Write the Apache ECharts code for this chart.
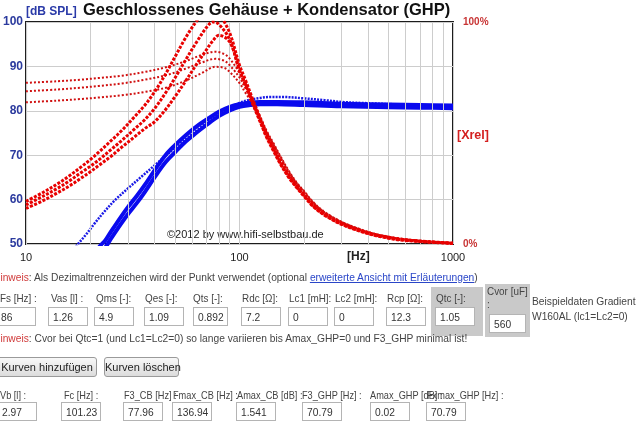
<!DOCTYPE html>
<html><head><meta charset="utf-8">
<script src="https://cdn.jsdelivr.net/npm/echarts@6/dist/echarts.min.js"></script>
<style>
html,body{margin:0;padding:0;background:#fff;width:640px;height:423px;overflow:hidden;font-family:Arial,"Liberation Sans",sans-serif;font-size:11.5px;color:#444}
#chart{position:absolute;left:0;top:0;width:640px;height:423px}
.t{position:absolute;white-space:nowrap;line-height:14px;z-index:2;transform:scaleX(0.89);transform-origin:0 50%}
.t.m{transform:scaleX(0.86)}
.t.n{transform:scaleX(0.80)}
.inp{position:absolute;width:40px;height:19px;box-sizing:border-box;border:1px solid #b4b4b4;background:#fff;padding:2px 0 0 4px;overflow:hidden;white-space:nowrap;color:#333;line-height:14px;z-index:3}
.inp span{display:inline-block;transform:scaleX(0.89);transform-origin:0 50%}
.gray{position:absolute;background:#c9c9c9;z-index:1}
.btn{position:absolute;height:20px;box-sizing:border-box;border:1px solid #9a9a9a;border-radius:3px;background:linear-gradient(#f8f8f8,#dcdcdc);line-height:18px;text-align:center;color:#222;z-index:2;white-space:nowrap;font-size:11px}
.red{color:#d03a3a}
a{color:#2a46c8;text-decoration:underline}
</style></head>
<body>
<div id="chart"></div>

<div class="t" style="left:-7px;top:270px"><span class="red">Hinweis</span>: Als Dezimaltrennzeichen wird der Punkt verwendet (optional <a>erweiterte Ansicht mit Erläuterungen</a>)</div>

<div class="gray" style="left:431px;top:287px;width:52px;height:49px"></div>
<div class="gray" style="left:485px;top:284px;width:45px;height:53px"></div>

<div class="t m" style="left:0px;top:291px">Fs [Hz] :</div>
<div class="t m" style="left:51px;top:291px">Vas [l] :</div>
<div class="t m" style="left:96px;top:291px">Qms [-]:</div>
<div class="t m" style="left:145px;top:291px">Qes [-]:</div>
<div class="t m" style="left:193px;top:291px">Qts [-]:</div>
<div class="t m" style="left:242px;top:291px">Rdc [Ω]:</div>
<div class="t m" style="left:289px;top:291px">Lc1 [mH]:</div>
<div class="t m" style="left:335px;top:291px">Lc2 [mH]:</div>
<div class="t m" style="left:387px;top:291px">Rcp [Ω]:</div>
<div class="t m" style="left:436px;top:291px">Qtc [-]:</div>
<div class="t m" style="left:487px;top:284px">Cvor [uF]</div>
<div class="t" style="left:487px;top:297px">:</div>
<div class="t" style="left:532px;top:294px">Beispieldaten Gradient</div>
<div class="t" style="left:532px;top:309px">W160AL (lc1=Lc2=0)</div>

<div class="inp" style="left:-4px;top:307px"><span>86</span></div>
<div class="inp" style="left:48px;top:307px"><span>1.26</span></div>
<div class="inp" style="left:94px;top:307px"><span>4.9</span></div>
<div class="inp" style="left:144px;top:307px"><span>1.09</span></div>
<div class="inp" style="left:193px;top:307px;width:35px"><span>0.892</span></div>
<div class="inp" style="left:241px;top:307px"><span>7.2</span></div>
<div class="inp" style="left:288px;top:307px"><span>0</span></div>
<div class="inp" style="left:334px;top:307px"><span>0</span></div>
<div class="inp" style="left:386px;top:307px"><span>12.3</span></div>
<div class="inp" style="left:435px;top:307px"><span>1.05</span></div>
<div class="inp" style="left:489px;top:314px;width:37px"><span>560</span></div>

<div class="t" style="left:-7px;top:331px"><span class="red">Hinweis</span>: Cvor bei Qtc=1 (und Lc1=Lc2=0) so lange variieren bis Amax_GHP=0 und F3_GHP minimal ist!</div>

<div class="btn" style="left:-3px;top:357px;width:100px">Kurven hinzufügen</div>
<div class="btn" style="left:104px;top:357px;width:75px">Kurven löschen</div>

<div class="t n" style="left:0px;top:388px">Vb [l] :</div>
<div class="t n" style="left:64px;top:388px">Fc [Hz] :</div>
<div class="t n" style="left:124px;top:388px">F3_CB [Hz] :</div>
<div class="t n" style="left:173px;top:388px">Fmax_CB [Hz] :</div>
<div class="t n" style="left:237px;top:388px">Amax_CB [dB] :</div>
<div class="t n" style="left:302px;top:388px">F3_GHP [Hz] :</div>
<div class="t n" style="left:370px;top:388px">Amax_GHP [dB] :</div>
<div class="t n" style="left:427px;top:388px">Fxmax_GHP [Hz] :</div>

<div class="inp" style="left:-3px;top:402px"><span>2.97</span></div>
<div class="inp" style="left:61px;top:402px"><span>101.23</span></div>
<div class="inp" style="left:123px;top:402px"><span>77.96</span></div>
<div class="inp" style="left:172px;top:402px"><span>136.94</span></div>
<div class="inp" style="left:236px;top:402px"><span>1.541</span></div>
<div class="inp" style="left:302px;top:402px"><span>70.79</span></div>
<div class="inp" style="left:370px;top:402px"><span>0.02</span></div>
<div class="inp" style="left:426px;top:402px"><span>70.79</span></div>

<script>
// Frequency grids (Hz)
const freqRed = [10,12,14,16,18,20,22,25,28,32,36,40,45,50,56,63,70,75,80,90,100,106,116,125,134,145,155,170,186,200,222,250,295,350,424,500,564,700,850,1000];
// relative excursion Xrel [%] — three GHP curves (thick)
const xrel1 = [19.2,23.2,27,30.8,34.5,38,41.5,46.5,51,57,62.5,68.5,76.5,84.5,93,100.5,105.5,106.5,104,95,80.5,74.5,64.5,56.5,49.5,43,37.5,31.2,26,22.5,17.5,13.5,9.7,6.8,4.4,3,2.2,1.3,0.8,0.4];
const xrel2 = [17.6,21.5,25,28.5,32,35,38,42.5,46.5,51.5,56,61,68,75,83,91,97.5,100,99,92,78,72.5,63,55.5,48.5,42,36.6,30.5,25.5,22,17,13.2,9.4,6.6,4.2,2.8,2,1.2,0.7,0.3];
const xrel3 = [16,19.5,23,26.2,29.5,32.5,35.5,39.5,43.5,48,52,55,60.5,66.5,73.5,81,87.5,91.5,94,91,78.5,72.5,62.5,55,48,41.5,36.2,30,25.2,21.6,16.8,13,9.2,6.4,4,2.6,1.8,1.1,0.6,0.2];

const freqDot = [10,14,18,22,28,36,46,56,66,77,85,90,100,106,116,125,134,145,155,170,186,200,222,250,295,350,424,500,564,700,850,1000];
// relative excursion Xrel [%] — three CB curves (thin dotted)
const xrelCb1 = [72.6,73.3,74,74.8,75.8,77.5,79.8,82.4,85,86.6,85.5,83.5,77,72,64.5,57.5,51,45,39.8,33,27.5,24,18.8,14.5,10.4,7.4,4.8,3.3,2.5,1.5,0.9,0.5];
const xrelCb2 = [68.8,69.6,70.4,71.2,72.3,74,76.2,79,81.6,83.4,82.5,80.5,75,70.5,63.8,57,50.5,44.5,39.3,32.6,27.2,23.7,18.6,14.3,10.3,7.3,4.7,3.2,2.4,1.4,0.8,0.4];
const xrelCb3 = [63.8,64.6,65.3,66,67,68.5,70.6,73.6,76.8,79.8,79.3,77.5,72.5,68.5,62.5,56,50,44,39,32.3,27,23.5,18.4,14.2,10.2,7.2,4.6,3.1,2.3,1.3,0.7,0.3];

const freqSpl = [20,22,23.5,25,28,30,33,36,40,45,50,56,63,70,80,90,100,112,125,150,200,300,500,700,1000];
// SPL [dB] GHP (thick blue)
const splGhp1 = [45.5,49.3,50.8,52.8,56.3,58.3,60.8,63.3,66.6,70,72.3,74.5,76.5,78,79.8,80.9,81.5,81.9,82,82,81.9,81.6,81.4,81.3,81.2];
const splGhp2 = [44.5,47.7,49.2,51.2,54.7,56.7,59.2,61.7,65,68.4,70.7,73.1,75.1,76.8,78.8,80.1,80.9,81.3,81.5,81.5,81.3,81,80.8,80.7,80.6];

const freqCb = [16,17.5,19,21,23,26,30,35,40,45,50,56,63,70,80,90,100,112,125,140,160,200,250,300,400,600,1000];
// SPL [dB] closed box (dotted blue)
const splCb = [47.8,50,52,54.7,57,59.8,62.5,65.3,67.7,69.8,71.7,73.6,75.6,77.3,79.3,80.8,81.8,82.5,82.9,83.1,83.1,82.8,82.4,82,81.7,81.4,81.1];

// axis ticks
const splTicks = {min:50, max:100, step:10};
const minorFreqTicks = [20,30,40,50,60,70,80,90,200,300,400,500,600,700,800,900];

const FONT = '"Liberation Sans", Arial, sans-serif';
const pair = (fr, v) => fr.map((f, i) => [f, v[i]]);
function ln(name, fr, v, color, width, dash, yIdx, z) {
  return {name, type:'line', yAxisIndex:yIdx, data:pair(fr, v), symbol:'none', showSymbol:false,
    smooth:0.35, clip:true, z, silent:true, animation:false,
    lineStyle:{color, width, type:dash, cap:'butt', join:'round'}};
}

const chart = echarts.init(document.getElementById('chart'), null, {renderer:'canvas'});
chart.setOption({
  animation:false,
  grid:{left:26, right:187, top:22, bottom:179, show:true, borderColor:'#1c1c1c', borderWidth:2, backgroundColor:'rgba(0,0,0,0)'},
  xAxis:{type:'log', logBase:10, min:10, max:1000,
    axisLine:{show:false}, axisTick:{show:false},
    splitLine:{show:true, lineStyle:{color:'#cdcdcd', width:1}},
    axisLabel:{color:'#222', fontSize:11, fontFamily:FONT, margin:8, formatter:v => String(Math.round(v))}},
  yAxis:[
    {type:'value', min:splTicks.min, max:splTicks.max, interval:splTicks.step,
     axisLine:{show:false}, axisTick:{show:false},
     splitLine:{lineStyle:{color:'#cdcdcd', width:1}},
     axisLabel:{color:'#2b3a9e', fontWeight:'bold', fontSize:12, fontFamily:FONT, margin:3}},
    {type:'value', position:'right', min:0, max:100, interval:50,
     axisLine:{show:false}, axisTick:{show:false}, splitLine:{show:false},
     axisLabel:{color:'#c83434', fontWeight:'bold', fontSize:10, fontFamily:FONT, margin:10,
       formatter:v => (v === 50 ? '' : v + '%')}}
  ],
  graphic:[
    {type:'text', left:26, top:6, style:{text:'[dB SPL]', fill:'#2a3aa8', font:'bold 12px ' + FONT}},
    {type:'text', left:83, top:2, style:{text:'Geschlossenes Gehäuse + Kondensator (GHP)', fill:'#111', font:'bold 16.5px ' + FONT}},
    {type:'text', left:457, top:129, style:{text:'[Xrel]', fill:'#d42020', font:'bold 12.5px ' + FONT}},
    {type:'text', left:347, top:251, style:{text:'[Hz]', fill:'#222', font:'bold 12px ' + FONT}},
    {type:'text', left:167, top:229, style:{text:'©2012 by www.hifi-selbstbau.de', fill:'#222', font:'11px ' + FONT}}
  ],
  series:[
    {type:'line', data:[], silent:true, z:1,
     markLine:{silent:true, symbol:['none','none'], label:{show:false}, animation:false,
       lineStyle:{color:'#cdcdcd', width:1, type:'solid'},
       emphasis:{disabled:true},
       data:minorFreqTicks.map(f => ({xAxis:f}))}},
    ln('CB SPL', freqCb, splCb, '#1a1ae6', 2.5, [2,1.2], 0, 3),
    ln('GHP SPL 1', freqSpl, splGhp1, '#0a0aee', 4, 'solid', 0, 4),
    ln('GHP SPL 2', freqSpl, splGhp2, '#0a0aee', 4, 'solid', 0, 4),
    ln('CB Xrel 1', freqDot, xrelCb1, '#d01010', 2, [2,2], 1, 5),
    ln('CB Xrel 2', freqDot, xrelCb2, '#d01010', 2, [2,2], 1, 5),
    ln('CB Xrel 3', freqDot, xrelCb3, '#d01010', 2, [2,2], 1, 5),
    ln('GHP Xrel 1', freqRed, xrel1, '#e80000', 3, [3,1.5], 1, 6),
    ln('GHP Xrel 2', freqRed, xrel2, '#e80000', 3, [3,1.5], 1, 6),
    ln('GHP Xrel 3', freqRed, xrel3, '#e80000', 3, [3,1.5], 1, 6)
  ]
});
</script>
</body></html>
